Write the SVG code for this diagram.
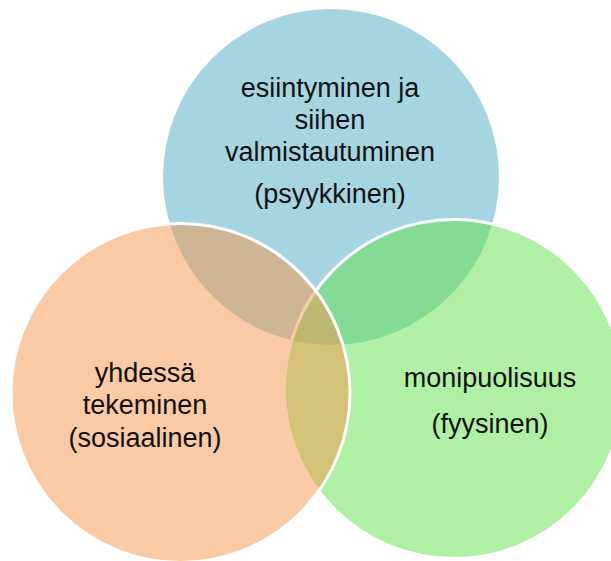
<svg xmlns="http://www.w3.org/2000/svg" width="611" height="561" viewBox="0 0 611 561">
  <style>
    .c { fill-opacity: 0.5; stroke: #ffffff; stroke-width: 3; }
    .t { font-family: "Liberation Sans", Arial, sans-serif; font-size: 27px; fill: #111111; text-anchor: middle; }
  </style>
  <rect width="611" height="561" fill="#ffffff"/>
  <g id="psyykkinen">
    <circle class="c" cx="331" cy="177" r="169.5" fill="#4DABC5"/>
    <text class="t" x="330" y="97">esiintyminen ja</text>
    <text class="t" x="330" y="129">siihen</text>
    <text class="t" x="330" y="161">valmistautuminen</text>
    <text class="t" x="330" y="203">(psyykkinen)</text>
  </g>
  <g id="fyysinen">
    <circle class="c" cx="454" cy="389" r="169.5" fill="#61E149"/>
    <text class="t" x="490" y="387">monipuolisuus</text>
    <text class="t" x="490" y="433">(fyysinen)</text>
  </g>
  <g id="sosiaalinen">
    <circle class="c" cx="180.5" cy="393" r="169.5" fill="#F59549"/>
    <text class="t" x="145" y="382">yhdessä</text>
    <text class="t" x="145" y="414">tekeminen</text>
    <text class="t" x="145" y="447">(sosiaalinen)</text>
  </g>
  <g id="connectors"/>
</svg>
